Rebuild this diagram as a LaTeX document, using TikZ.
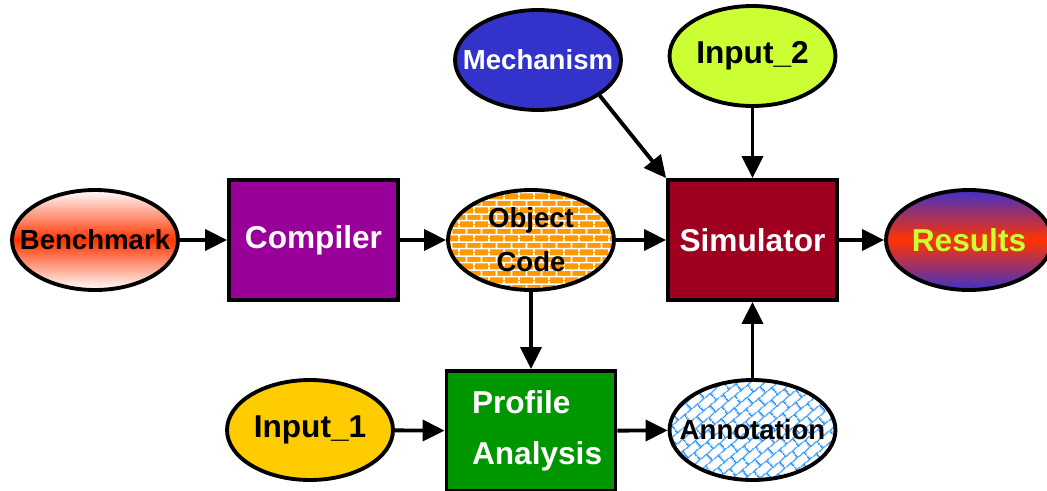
\documentclass[tikz,border=0pt]{standalone}
\usepackage{fontspec}
\setmainfont{Liberation Sans}
\usetikzlibrary{arrows.meta,shapes.geometric,patterns.meta}
\definecolor{compviolet}{RGB}{153,0,153}
\definecolor{simred}{RGB}{160,0,32}
\definecolor{profgreen}{RGB}{0,150,0}
\definecolor{mechblue}{RGB}{51,51,204}
\definecolor{limegreen}{RGB}{204,255,51}
\definecolor{inpyellow}{RGB}{255,204,0}
\definecolor{brickorange}{RGB}{255,153,0}
\definecolor{hatchblue}{RGB}{51,153,255}
\definecolor{hotred}{RGB}{255,51,0}
\definecolor{deepblue}{RGB}{64,48,200}
\tikzdeclarepattern{
  name=wallbricks,
  type=uncolored,
  bottom left={(0pt,0pt)},
  top right={(8.5pt,8pt)},
  tile size={(8.5pt,8pt)},
  code={
    \draw[line width=.9pt] (0pt,2pt) -- (8.5pt,2pt) (0pt,6pt) -- (8.5pt,6pt)
      (2pt,2pt) -- (2pt,6pt) (6.25pt,6pt) -- (6.25pt,8pt) (6.25pt,0pt) -- (6.25pt,2pt);
  }
}
\tikzdeclarepattern{
  name=slantbricks,
  type=uncolored,
  bottom left={(0pt,0pt)},
  top right={(10pt,10pt)},
  tile size={(10pt,10pt)},
  tile transformation={rotate=40},
  code={
    \draw[line width=.8pt] (0pt,2.5pt) -- (10pt,2.5pt) (0pt,7.5pt) -- (10pt,7.5pt)
      (2.5pt,2.5pt) -- (2.5pt,7.5pt) (7.5pt,7.5pt) -- (7.5pt,10pt) (7.5pt,0pt) -- (7.5pt,2.5pt);
  }
}

\begin{document}
\begin{tikzpicture}[x=0.02cm, y=-0.02cm,
        oval/.style={ellipse, draw, line width=2.2pt, minimum width=3.32cm, minimum height=2cm, inner xsep=-1cm, inner ysep=0pt, align=center, font=\fontsize{15.7}{25}\selectfont\bfseries},
        bigoval/.style={oval, font=\fontsize{18}{22}\selectfont\bfseries},
        block/.style={rectangle, draw, line width=2.2pt, minimum width=3.38cm, minimum height=2.4cm, text=white, align=center, font=\fontsize{18}{29}\selectfont\bfseries},
        flow/.style={-{Triangle[length=0.44cm, width=0.42cm]}, line width=2.2pt}]
        \useasboundingbox (0,0) rectangle (1047,490);
        \clip (0,0) rectangle (1047,490);
        \node[oval, top color=white, bottom color=white, middle color=hotred] (bench) at (95,240) {Benchmark};
        \node[block, fill=compviolet] (comp) at (313.5,240) {Compiler};
        \node[oval, draw, pattern=wallbricks, pattern color=white, preaction={fill=brickorange}] (objcode) at (531,240) {Object\\Code};
        \node[block, fill=simred] (sim) at (752.5,240) {Simulator};
        \node[bigoval, top color=deepblue, bottom color=deepblue, middle color=hotred, text=limegreen] (results) at (969,240) {Results};
        \node[oval, fill=mechblue, text=white] (mech) at (538,60) {Mechanism};
        \node[bigoval, fill=limegreen] (inptwo) at (752.5,56) {Input\_2};
        \node[bigoval, fill=inpyellow] (inpone) at (310,430) {Input\_1};
        \node[block, fill=profgreen, text width=2.36cm, align=left] (profile) at (531,431) {Profile\\Analysis};
        \node[oval, pattern=slantbricks, pattern color=hatchblue] (annot) at (752.5,430) {Annotation};
        \draw[flow] (bench) -- (comp);
        \draw[flow] (comp) -- (objcode);
        \draw[flow] (objcode) -- (sim);
        \draw[flow] (sim) -- (results);
        \draw[flow] (mech.-30) -- (sim.north west);
        \draw[flow] (inptwo) -- (sim);
        \draw[flow] (objcode) -- (profile);
        \draw[flow] (inpone) -- (profile);
        \draw[flow] (profile) -- (annot);
        \draw[flow] (annot) -- (sim);
\end{tikzpicture}
\end{document}
